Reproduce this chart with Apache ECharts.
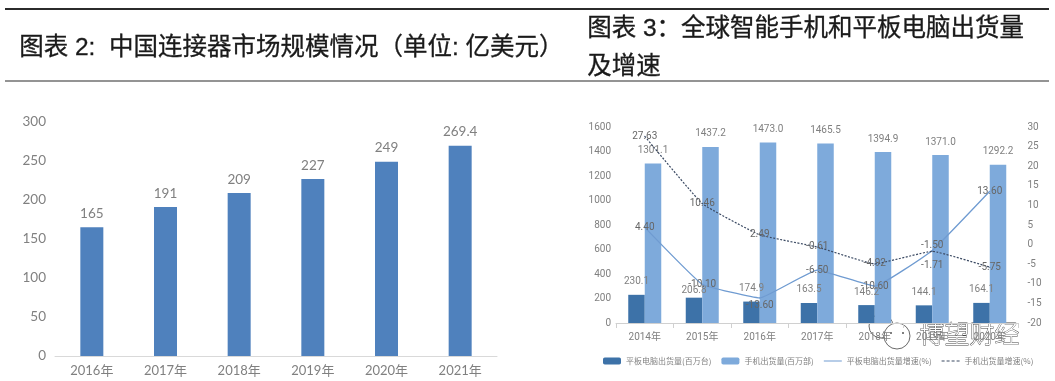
<!DOCTYPE html>
<html>
<head>
<meta charset="utf-8">
<style>
  html, body { margin: 0; padding: 0; background: #fff; }
  #chart { width: 1055px; height: 381px; }
</style>
<script src="https://cdn.jsdelivr.net/npm/echarts@6/dist/echarts.min.js"></script>
</head>
<body>
<div id="chart"></div>
<script>
const marketYears = ['2016年', '2017年', '2018年', '2019年', '2020年', '2021年'];
const marketSize = [165, 191, 209, 227, 249, 269.4];

const shipYears = ['2014年', '2015年', '2016年', '2017年', '2018年', '2019年', '2020年'];
const tabletShip = [230.1, 206.8, 174.9, 163.5, 146.2, 144.1, 164.1];
const phoneShip = [1301.1, 1437.2, 1473.0, 1465.5, 1394.9, 1371.0, 1292.2];
const tabletGrowth = [4.40, -10.10, -13.60, -6.50, -10.60, -1.50, 13.60];
const phoneGrowth = [27.63, 10.46, 2.49, -0.61, -4.92, -1.71, -5.75];

const titleLeft = '图表 2:  中国连接器市场规模情况（单位: 亿美元）';
const titleRight = '图表 3：全球智能手机和平板电脑出货量';
const titleRight2 = '及增速';
const watermark = '博望财经';

const cjk = "'Noto Sans CJK SC', sans-serif";
const headFont = "'Liberation Sans', 'Noto Sans CJK SC', sans-serif";
const tickFont = "Lato, 'Noto Sans CJK SC', sans-serif";
const smallFont = "Roboto, 'Noto Sans CJK SC', sans-serif";
const grey = '#808080';

// 折线图例用细线 path，默认图标带圆点
const solidIcon = 'path://M0 0L0 0M0 3H18V4H0ZM18 7L18 7';
const dashIcon = 'path://M0 0L0 0M0 3H3V4H0ZM5 3H8V4H5ZM10 3H13V4H10ZM15 3H18V4H15ZM18 7L18 7';

const headText = (x, y, text) => ({
  type: 'text', left: x, top: y,
  style: { text, font: '24.5px ' + headFont, fill: '#1a1a1a', stroke: '#1a1a1a', lineWidth: 0.3 },
});
const rule = (y, h) => ({
  type: 'rect', shape: { x: 5, y, width: 1044, height: h },
  style: { fill: '#2b2b2b' },
});
const bubble = (cx, cy, r) => ({
  type: 'circle', shape: { cx, cy, r },
  style: { fill: '#fff', stroke: '#444', lineWidth: 0.8 },
});
const dot = (cx, cy) => ({
  type: 'circle', shape: { cx, cy, r: 1 },
  style: { fill: '#555' },
});

// 数据标签有几个在原图里被手动挪开了
const shifted = (values, shifts) =>
  values.map((v, i) => (shifts[i] ? { value: v, label: { offset: [0, shifts[i]] } } : v));

const chart = echarts.init(document.getElementById('chart'));
chart.setOption({
  animation: false,
  backgroundColor: '#fff',
  grid: [
    { left: 55, top: 122, width: 442, height: 234 },
    { left: 616, top: 127, width: 402.5, height: 196 },
  ],
  xAxis: [
    {
      type: 'category', gridIndex: 0, data: marketYears,
      axisLine: { lineStyle: { color: '#d9d9d9' } },
      axisTick: { show: false },
      axisLabel: { color: grey, fontSize: 13, fontFamily: tickFont, margin: 8 },
    },
    {
      type: 'category', gridIndex: 1, data: shipYears,
      axisLine: { lineStyle: { color: '#d0d0d0' } },
      axisTick: { show: true, lineStyle: { color: '#d0d0d0' } },
      axisLabel: { color: grey, fontSize: 10, fontFamily: smallFont, margin: 9 },
    },
  ],
  yAxis: [
    {
      type: 'value', gridIndex: 0, min: 0, max: 300, interval: 50,
      splitLine: { show: false }, axisLine: { show: false }, axisTick: { show: false },
      axisLabel: { color: grey, fontSize: 13.5, fontFamily: tickFont, margin: 9 },
    },
    {
      type: 'value', gridIndex: 1, min: 0, max: 1600, interval: 200,
      splitLine: { show: false }, axisLine: { show: false }, axisTick: { show: false },
      axisLabel: { color: grey, fontSize: 10, fontFamily: smallFont, margin: 5, formatter: (v) => String(v) },
    },
    {
      type: 'value', gridIndex: 1, position: 'right', min: -20, max: 30, interval: 5,
      splitLine: { show: false }, axisLine: { show: false }, axisTick: { show: false },
      axisLabel: { color: grey, fontSize: 10, fontFamily: smallFont, margin: 9 },
    },
  ],
  legend: {
    left: 603, top: 357, width: 450, itemWidth: 18, itemHeight: 7, itemGap: 10,
    padding: 0,
    textStyle: { color: grey, fontSize: 8, fontFamily: cjk },
    data: [
      { name: '平板电脑出货量(百万台)' },
      { name: '手机出货量(百万部)' },
      { name: '平板电脑出货量增速(%)', icon: solidIcon },
      { name: '手机出货量增速(%)', icon: dashIcon },
    ],
  },
  series: [
    {
      type: 'bar', xAxisIndex: 0, yAxisIndex: 0, data: marketSize, barWidth: 23,
      itemStyle: { color: '#4f81bd' },
      label: {
        show: true, position: 'top', distance: 7, color: grey,
        fontSize: 13.5, fontFamily: tickFont,
      },
    },
    {
      name: '平板电脑出货量(百万台)', type: 'bar', xAxisIndex: 1, yAxisIndex: 1,
      data: shifted(tabletShip, { 1: 6 }), barWidth: 16.5, barGap: 0,
      itemStyle: { color: '#3d72a8' },
      label: {
        show: true, position: 'top', distance: 8, color: grey,
        fontSize: 10, fontFamily: smallFont, formatter: (p) => p.value.toFixed(1),
      },
    },
    {
      name: '手机出货量(百万部)', type: 'bar', xAxisIndex: 1, yAxisIndex: 1,
      data: phoneShip, barWidth: 16.5,
      itemStyle: { color: '#7eaadb' },
      label: {
        show: true, position: 'top', distance: 8, color: grey,
        fontSize: 10, fontFamily: smallFont, formatter: (p) => p.value.toFixed(1),
      },
    },
    {
      name: '平板电脑出货量增速(%)', type: 'line', xAxisIndex: 1, yAxisIndex: 2,
      data: shifted(tabletGrowth, { 2: 8, 5: -5 }), smooth: 0.1,
      symbol: 'circle', symbolSize: 1,
      lineStyle: { color: '#6f9bd1', width: 1.3 },
      itemStyle: { color: '#6f9bd1' },
      label: {
        show: true, position: 'inside', color: '#666', fontSize: 10, fontFamily: smallFont,
        formatter: (p) => p.value.toFixed(2),
      },
    },
    {
      name: '手机出货量增速(%)', type: 'line', xAxisIndex: 1, yAxisIndex: 2,
      data: shifted(phoneGrowth, { 5: 14 }), smooth: 0.1,
      symbol: 'circle', symbolSize: 1,
      lineStyle: { color: '#3b4a63', width: 1.2, type: [2, 1.5] },
      itemStyle: { color: '#3b4a63' },
      label: {
        show: true, position: 'inside', color: '#666', fontSize: 10, fontFamily: smallFont,
        formatter: (p) => p.value.toFixed(2),
      },
    },
  ],
  graphic: [
    rule(8, 2),
    rule(80.5, 1),
    headText(19, 36, titleLeft),
    headText(587, 17, titleRight),
    headText(587, 55, titleRight2),
    bubble(881, 326, 12),
    dot(876, 322),
    dot(885, 322),
    bubble(897, 336, 13),
    dot(891, 333),
    dot(903, 333),
    {
      type: 'text', left: 919, top: 321,
      style: {
        text: watermark, font: '300 25px ' + cjk, fill: '#fff',
        stroke: '#444', lineWidth: 0.8,
      },
    },
  ],
});
</script>
</body>
</html>
